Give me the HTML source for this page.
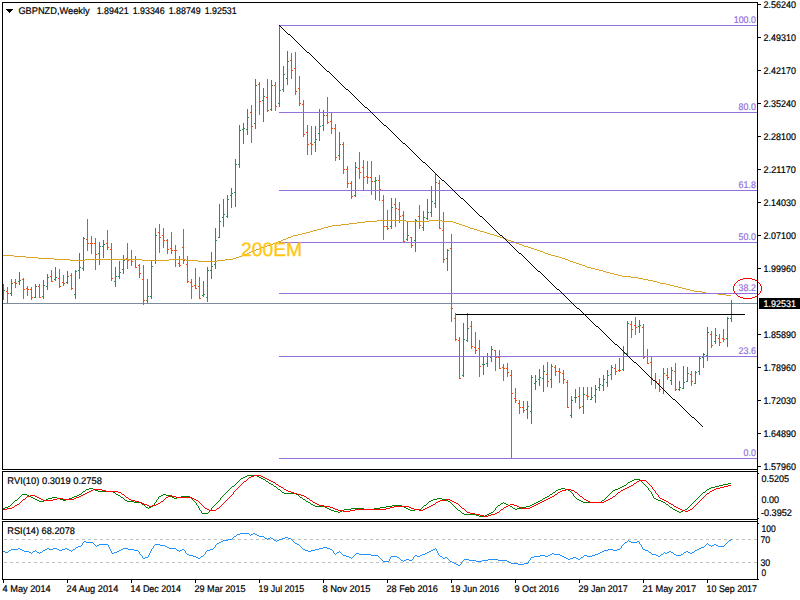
<!DOCTYPE html>
<html><head><meta charset="utf-8"><title>GBPNZD Weekly</title>
<style>
html,body{margin:0;padding:0;background:#fff;}
body{width:800px;height:600px;overflow:hidden;}
svg{display:block;font-family:"Liberation Sans",sans-serif;}
rect,path{shape-rendering:crispEdges;}
ellipse{shape-rendering:crispEdges;}
text{text-rendering:geometricPrecision;}
</style></head><body>
<svg width="800" height="600" viewBox="0 0 800 600">
<rect x="0" y="0" width="800" height="600" fill="#fff"/>
<rect x="3" y="303" width="754" height="1" fill="#7C8C9C"/>
<path d="M3 284h1V300h-1zM2 298h1v1h-1zM4 290h1v1h-1zM11 279h1V296h-1zM10 293h1v1h-1zM12 283h1v1h-1zM19 272h1V285h-1zM18 281h1v1h-1zM20 280h1v1h-1zM35 284h1V298h-1zM34 297h1v1h-1zM36 286h1v1h-1zM43 280h1V299h-1zM42 296h1v1h-1zM44 285h1v1h-1zM47 274h1V290h-1zM46 286h1v1h-1zM48 277h1v1h-1zM55 267h1V281h-1zM54 279h1v1h-1zM56 277h1v1h-1zM67 271h1V284h-1zM66 282h1v1h-1zM68 276h1v1h-1zM75 270h1V299h-1zM74 294h1v1h-1zM76 271h1v1h-1zM79 253h1V279h-1zM78 270h1v1h-1zM80 267h1v1h-1zM83 237h1V271h-1zM82 268h1v1h-1zM84 238h1v1h-1zM99 242h1V265h-1zM98 253h1v1h-1zM100 246h1v1h-1zM103 240h1V258h-1zM102 246h1v1h-1zM104 244h1v1h-1zM115 267h1V287h-1zM114 281h1v1h-1zM116 276h1v1h-1zM119 261h1V279h-1zM118 276h1v1h-1zM120 272h1v1h-1zM123 255h1V274h-1zM122 269h1v1h-1zM124 260h1v1h-1zM147 279h1V303h-1zM146 300h1v1h-1zM148 296h1v1h-1zM151 261h1V299h-1zM150 296h1v1h-1zM152 266h1v1h-1zM155 228h1V264h-1zM154 260h1v1h-1zM156 235h1v1h-1zM203 281h1V297h-1zM202 295h1v1h-1zM204 294h1v1h-1zM207 267h1V302h-1zM206 297h1v1h-1zM208 270h1v1h-1zM211 252h1V279h-1zM210 270h1v1h-1zM212 266h1v1h-1zM215 228h1V269h-1zM214 264h1v1h-1zM216 240h1v1h-1zM219 204h1V238h-1zM218 237h1v1h-1zM220 221h1v1h-1zM223 199h1V227h-1zM222 217h1v1h-1zM224 214h1v1h-1zM227 195h1V218h-1zM226 216h1v1h-1zM228 199h1v1h-1zM231 188h1V208h-1zM230 195h1v1h-1zM232 193h1v1h-1zM235 159h1V207h-1zM234 192h1v1h-1zM236 164h1v1h-1zM239 125h1V168h-1zM238 164h1v1h-1zM240 130h1v1h-1zM243 123h1V144h-1zM242 129h1v1h-1zM244 128h1v1h-1zM247 109h1V135h-1zM246 129h1v1h-1zM248 117h1v1h-1zM255 79h1V129h-1zM254 123h1v1h-1zM256 85h1v1h-1zM263 88h1V122h-1zM262 100h1v1h-1zM264 96h1v1h-1zM271 80h1V111h-1zM270 109h1v1h-1zM272 85h1v1h-1zM279 25h1V107h-1zM278 103h1v1h-1zM280 90h1v1h-1zM283 66h1V92h-1zM282 89h1v1h-1zM284 74h1v1h-1zM287 51h1V85h-1zM286 78h1v1h-1zM288 61h1v1h-1zM315 126h1V152h-1zM314 142h1v1h-1zM316 139h1v1h-1zM319 109h1V141h-1zM318 133h1v1h-1zM320 126h1v1h-1zM323 110h1V131h-1zM322 125h1v1h-1zM324 115h1v1h-1zM339 132h1V160h-1zM338 155h1v1h-1zM340 144h1v1h-1zM355 162h1V197h-1zM354 195h1v1h-1zM356 167h1v1h-1zM375 177h1V200h-1zM374 181h1v1h-1zM376 180h1v1h-1zM391 198h1V229h-1zM390 226h1v1h-1zM392 207h1v1h-1zM407 222h1V241h-1zM406 239h1v1h-1zM408 235h1v1h-1zM415 219h1V252h-1zM414 240h1v1h-1zM416 220h1v1h-1zM423 211h1V231h-1zM422 227h1v1h-1zM424 217h1v1h-1zM427 199h1V220h-1zM426 218h1v1h-1zM428 212h1v1h-1zM431 186h1V217h-1zM430 212h1v1h-1zM432 201h1v1h-1zM435 174h1V208h-1zM434 203h1v1h-1zM436 182h1v1h-1zM447 249h1V271h-1zM446 258h1v1h-1zM448 250h1v1h-1zM463 323h1V377h-1zM462 375h1v1h-1zM464 339h1v1h-1zM467 313h1V342h-1zM466 340h1v1h-1zM468 328h1v1h-1zM483 356h1V375h-1zM482 364h1v1h-1zM484 364h1v1h-1zM487 353h1V367h-1zM486 363h1v1h-1zM488 356h1v1h-1zM491 346h1V362h-1zM490 357h1v1h-1zM492 349h1v1h-1zM527 401h1V419h-1zM526 409h1v1h-1zM528 406h1v1h-1zM531 375h1V424h-1zM530 411h1v1h-1zM532 377h1v1h-1zM535 375h1V390h-1zM534 383h1v1h-1zM536 381h1v1h-1zM539 369h1V386h-1zM538 379h1v1h-1zM540 377h1v1h-1zM543 365h1V392h-1zM542 378h1v1h-1zM544 371h1v1h-1zM551 364h1V388h-1zM550 379h1v1h-1zM552 366h1v1h-1zM571 396h1V418h-1zM570 415h1v1h-1zM572 400h1v1h-1zM575 389h1V403h-1zM574 397h1v1h-1zM576 397h1v1h-1zM583 387h1V414h-1zM582 406h1v1h-1zM584 394h1v1h-1zM591 387h1V400h-1zM590 399h1v1h-1zM592 397h1v1h-1zM595 385h1V403h-1zM594 395h1v1h-1zM596 389h1v1h-1zM599 378h1V391h-1zM598 387h1v1h-1zM600 384h1v1h-1zM603 375h1V391h-1zM602 385h1v1h-1zM604 379h1v1h-1zM607 370h1V387h-1zM606 382h1v1h-1zM608 375h1v1h-1zM611 365h1V380h-1zM610 374h1v1h-1zM612 367h1v1h-1zM623 346h1V371h-1zM622 369h1v1h-1zM624 353h1v1h-1zM627 321h1V355h-1zM626 353h1v1h-1zM628 323h1v1h-1zM639 320h1V333h-1zM638 326h1v1h-1zM640 325h1v1h-1zM663 368h1V394h-1zM662 388h1v1h-1zM664 373h1v1h-1zM671 367h1V385h-1zM670 380h1v1h-1zM672 370h1v1h-1zM679 381h1V391h-1zM678 389h1v1h-1zM680 387h1v1h-1zM683 366h1V389h-1zM682 388h1v1h-1zM684 382h1v1h-1zM687 367h1V382h-1zM686 381h1v1h-1zM688 373h1v1h-1zM695 371h1V384h-1zM694 383h1v1h-1zM696 372h1v1h-1zM699 357h1V375h-1zM698 371h1v1h-1zM700 358h1v1h-1zM703 353h1V368h-1zM702 357h1v1h-1zM704 354h1v1h-1zM707 327h1V361h-1zM706 355h1v1h-1zM708 332h1v1h-1zM715 328h1V344h-1zM714 341h1v1h-1zM716 335h1v1h-1zM727 317h1V347h-1zM726 338h1v1h-1zM728 318h1v1h-1zM731 300h1V322h-1zM730 318h1v1h-1zM732 303h1v1h-1z" fill="#2E8B57"/>
<path d="M7 287h1V303h-1zM6 291h1v1h-1zM8 293h1v1h-1zM15 279h1V288h-1zM14 282h1v1h-1zM16 283h1v1h-1zM23 278h1V299h-1zM22 279h1v1h-1zM24 289h1v1h-1zM27 286h1V296h-1zM26 288h1v1h-1zM28 289h1v1h-1zM31 287h1V300h-1zM30 289h1v1h-1zM32 297h1v1h-1zM39 284h1V298h-1zM38 286h1v1h-1zM40 297h1v1h-1zM51 270h1V282h-1zM50 276h1v1h-1zM52 281h1v1h-1zM59 269h1V288h-1zM58 278h1v1h-1zM60 286h1v1h-1zM63 275h1V286h-1zM62 282h1v1h-1zM64 283h1v1h-1zM71 273h1V290h-1zM70 275h1v1h-1zM72 288h1v1h-1zM87 219h1V251h-1zM86 239h1v1h-1zM88 243h1v1h-1zM91 236h1V254h-1zM90 243h1v1h-1zM92 243h1v1h-1zM95 238h1V270h-1zM94 243h1v1h-1zM96 254h1v1h-1zM107 230h1V250h-1zM106 243h1v1h-1zM108 247h1v1h-1zM111 243h1V281h-1zM110 249h1v1h-1zM112 278h1v1h-1zM127 243h1V269h-1zM126 258h1v1h-1zM128 260h1v1h-1zM131 250h1V266h-1zM130 259h1v1h-1zM132 261h1v1h-1zM135 256h1V268h-1zM134 259h1v1h-1zM136 267h1v1h-1zM139 264h1V278h-1zM138 265h1v1h-1zM140 273h1v1h-1zM143 265h1V305h-1zM142 279h1v1h-1zM144 300h1v1h-1zM159 224h1V253h-1zM158 232h1v1h-1zM160 237h1v1h-1zM163 228h1V248h-1zM162 235h1v1h-1zM164 240h1v1h-1zM167 239h1V254h-1zM166 240h1v1h-1zM168 249h1v1h-1zM171 232h1V254h-1zM170 248h1v1h-1zM172 250h1v1h-1zM175 245h1V267h-1zM174 250h1v1h-1zM176 250h1v1h-1zM179 256h1V267h-1zM178 263h1v1h-1zM180 265h1v1h-1zM183 229h1V264h-1zM182 247h1v1h-1zM184 260h1v1h-1zM187 256h1V283h-1zM186 264h1v1h-1zM188 281h1v1h-1zM191 279h1V299h-1zM190 282h1v1h-1zM192 286h1v1h-1zM195 268h1V289h-1zM194 285h1v1h-1zM196 288h1v1h-1zM199 277h1V299h-1zM198 286h1v1h-1zM200 298h1v1h-1zM251 105h1V143h-1zM250 112h1v1h-1zM252 126h1v1h-1zM259 82h1V115h-1zM258 84h1v1h-1zM260 101h1v1h-1zM267 79h1V112h-1zM266 97h1v1h-1zM268 110h1v1h-1zM275 82h1V111h-1zM274 85h1v1h-1zM276 106h1v1h-1zM291 53h1V79h-1zM290 60h1v1h-1zM292 70h1v1h-1zM295 52h1V95h-1zM294 68h1v1h-1zM296 91h1v1h-1zM299 76h1V106h-1zM298 88h1v1h-1zM300 103h1v1h-1zM303 100h1V137h-1zM302 104h1v1h-1zM304 134h1v1h-1zM307 125h1V155h-1zM306 132h1v1h-1zM308 144h1v1h-1zM311 126h1V155h-1zM310 143h1v1h-1zM312 144h1v1h-1zM327 97h1V124h-1zM326 115h1v1h-1zM328 122h1v1h-1zM331 112h1V134h-1zM330 121h1v1h-1zM332 128h1v1h-1zM335 124h1V161h-1zM334 128h1v1h-1zM336 157h1v1h-1zM343 142h1V174h-1zM342 144h1v1h-1zM344 169h1v1h-1zM347 166h1V188h-1zM346 169h1v1h-1zM348 183h1v1h-1zM351 181h1V199h-1zM350 183h1v1h-1zM352 196h1v1h-1zM359 152h1V179h-1zM358 168h1v1h-1zM360 172h1v1h-1zM363 160h1V190h-1zM362 167h1v1h-1zM364 177h1v1h-1zM367 161h1V184h-1zM366 176h1v1h-1zM368 177h1v1h-1zM371 161h1V195h-1zM370 177h1v1h-1zM372 181h1v1h-1zM379 175h1V201h-1zM378 180h1v1h-1zM380 189h1v1h-1zM383 195h1V240h-1zM382 200h1v1h-1zM384 226h1v1h-1zM387 210h1V230h-1zM386 226h1v1h-1zM388 228h1v1h-1zM395 198h1V227h-1zM394 204h1v1h-1zM396 208h1v1h-1zM399 202h1V223h-1zM398 209h1v1h-1zM400 216h1v1h-1zM403 211h1V242h-1zM402 215h1v1h-1zM404 241h1v1h-1zM411 237h1V248h-1zM410 237h1v1h-1zM412 245h1v1h-1zM419 205h1V229h-1zM418 216h1v1h-1zM420 225h1v1h-1zM439 180h1V229h-1zM438 183h1v1h-1zM440 228h1v1h-1zM443 212h1V263h-1zM442 230h1v1h-1zM444 259h1v1h-1zM451 234h1V322h-1zM450 248h1v1h-1zM452 308h1v1h-1zM455 313h1V341h-1zM454 318h1v1h-1zM456 339h1v1h-1zM459 337h1V379h-1zM458 340h1v1h-1zM460 378h1v1h-1zM471 321h1V349h-1zM470 326h1v1h-1zM472 346h1v1h-1zM475 332h1V354h-1zM474 347h1v1h-1zM476 350h1v1h-1zM479 340h1V377h-1zM478 348h1v1h-1zM480 366h1v1h-1zM495 350h1V371h-1zM494 350h1v1h-1zM496 357h1v1h-1zM499 350h1V369h-1zM498 357h1v1h-1zM500 368h1v1h-1zM503 364h1V381h-1zM502 367h1v1h-1zM504 368h1v1h-1zM507 363h1V377h-1zM506 368h1v1h-1zM508 372h1v1h-1zM511 370h1V459h-1zM510 375h1v1h-1zM512 393h1v1h-1zM515 388h1V403h-1zM514 398h1v1h-1zM516 400h1v1h-1zM519 400h1V414h-1zM518 403h1v1h-1zM520 407h1v1h-1zM523 401h1V413h-1zM522 407h1v1h-1zM524 410h1v1h-1zM547 362h1V387h-1zM546 374h1v1h-1zM548 381h1v1h-1zM555 365h1V376h-1zM554 367h1v1h-1zM556 371h1v1h-1zM559 368h1V383h-1zM558 371h1v1h-1zM560 372h1v1h-1zM563 370h1V384h-1zM562 373h1v1h-1zM564 379h1v1h-1zM567 380h1V408h-1zM566 382h1v1h-1zM568 407h1v1h-1zM579 387h1V409h-1zM578 396h1v1h-1zM580 407h1v1h-1zM587 387h1V400h-1zM586 395h1v1h-1zM588 396h1v1h-1zM615 364h1V375h-1zM614 368h1v1h-1zM616 371h1v1h-1zM619 358h1V372h-1zM618 370h1v1h-1zM620 370h1v1h-1zM631 321h1V338h-1zM630 324h1v1h-1zM632 329h1v1h-1zM635 317h1V335h-1zM634 325h1v1h-1zM636 327h1v1h-1zM643 324h1V359h-1zM642 327h1v1h-1zM644 357h1v1h-1zM647 349h1V364h-1zM646 356h1v1h-1zM648 363h1v1h-1zM651 357h1V385h-1zM650 362h1v1h-1zM652 378h1v1h-1zM655 373h1V389h-1zM654 380h1v1h-1zM656 381h1v1h-1zM659 379h1V392h-1zM658 383h1v1h-1zM660 389h1v1h-1zM667 368h1V380h-1zM666 375h1v1h-1zM668 377h1v1h-1zM675 363h1V391h-1zM674 371h1v1h-1zM676 389h1v1h-1zM691 371h1V386h-1zM690 374h1v1h-1zM692 381h1v1h-1zM711 331h1V348h-1zM710 334h1v1h-1zM712 345h1v1h-1zM719 334h1V346h-1zM718 338h1v1h-1zM720 342h1v1h-1zM723 329h1V342h-1zM722 338h1v1h-1zM724 339h1v1h-1z" fill="#FF4500"/>
<path d="M377 220h29v1h-29zM429 220h13v1h-13zM365 221h12v1h-12zM406 221h23v1h-23zM442 221h11v1h-11zM357 222h8v1h-8zM453 222h3v1h-3zM349 223h8v1h-8zM456 223h3v1h-3zM341 224h8v1h-8zM459 224h3v1h-3zM332 225h9v1h-9zM462 225h3v1h-3zM328 226h4v1h-4zM465 226h3v1h-3zM324 227h4v1h-4zM468 227h2v1h-2zM321 228h3v1h-3zM470 228h4v1h-4zM317 229h4v1h-4zM474 229h3v1h-3zM313 230h4v1h-4zM477 230h3v1h-3zM310 231h3v1h-3zM480 231h4v1h-4zM306 232h4v1h-4zM484 232h3v1h-3zM302 233h4v1h-4zM487 233h3v1h-3zM298 234h4v1h-4zM490 234h4v1h-4zM293 235h5v1h-5zM494 235h3v1h-3zM291 236h2v1h-2zM497 236h3v1h-3zM288 237h3v1h-3zM500 237h3v1h-3zM286 238h2v1h-2zM503 238h3v1h-3zM283 239h3v1h-3zM506 239h2v1h-2zM281 240h2v1h-2zM508 240h3v1h-3zM278 241h3v1h-3zM511 241h3v1h-3zM276 242h2v1h-2zM514 242h2v1h-2zM273 243h3v1h-3zM516 243h3v1h-3zM270 244h3v1h-3zM519 244h3v1h-3zM267 245h3v1h-3zM522 245h2v1h-2zM264 246h3v1h-3zM524 246h4v1h-4zM261 247h3v1h-3zM528 247h3v1h-3zM259 248h2v1h-2zM531 248h3v1h-3zM256 249h3v1h-3zM534 249h3v1h-3zM254 250h2v1h-2zM537 250h3v1h-3zM251 251h3v1h-3zM540 251h3v1h-3zM249 252h2v1h-2zM543 252h2v1h-2zM247 253h2v1h-2zM545 253h3v1h-3zM244 254h3v1h-3zM548 254h3v1h-3zM3 255h11v1h-11zM242 255h2v1h-2zM551 255h4v1h-4zM14 256h12v1h-12zM239 256h3v1h-3zM555 256h4v1h-4zM26 257h12v1h-12zM236 257h3v1h-3zM559 257h3v1h-3zM38 258h16v1h-16zM233 258h3v1h-3zM562 258h3v1h-3zM54 259h16v1h-16zM85 259h57v1h-57zM169 259h17v1h-17zM225 259h8v1h-8zM565 259h3v1h-3zM70 260h15v1h-15zM142 260h27v1h-27zM186 260h12v1h-12zM217 260h8v1h-8zM568 260h2v1h-2zM198 261h19v1h-19zM570 261h3v1h-3zM573 262h3v1h-3zM576 263h3v1h-3zM579 264h3v1h-3zM582 265h3v1h-3zM585 266h2v1h-2zM587 267h4v1h-4zM591 268h4v1h-4zM595 269h4v1h-4zM599 270h4v1h-4zM603 271h3v1h-3zM606 272h4v1h-4zM610 273h4v1h-4zM614 274h4v1h-4zM618 275h4v1h-4zM622 276h9v1h-9zM631 277h7v1h-7zM638 278h5v1h-5zM643 279h5v1h-5zM648 280h5v1h-5zM653 281h4v1h-4zM657 282h3v1h-3zM660 283h6v1h-6zM666 284h4v1h-4zM670 285h4v1h-4zM674 286h4v1h-4zM678 287h4v1h-4zM682 288h4v1h-4zM686 289h4v1h-4zM690 290h4v1h-4zM694 291h8v1h-8zM702 292h4v1h-4zM706 293h12v1h-12zM718 294h8v1h-8zM726 295h5v1h-5z" fill="#DAA520"/>
<rect x="279" y="25" width="478" height="1" fill="#9370DB"/>
<rect x="279" y="112" width="478" height="1" fill="#9370DB"/>
<rect x="279" y="190" width="478" height="1" fill="#9370DB"/>
<rect x="279" y="242" width="478" height="1" fill="#9370DB"/>
<rect x="279" y="293" width="478" height="1" fill="#9370DB"/>
<rect x="279" y="356" width="478" height="1" fill="#9370DB"/>
<rect x="279" y="458" width="478" height="1" fill="#9370DB"/>
<text x="241" y="256" fill="#FFC610" stroke="#FFC610" stroke-width="0.3" font-size="19.4" text-anchor="start" textLength="61.2" lengthAdjust="spacingAndGlyphs">200EM</text>
<path d="M279 25h1v1h-1zM280 26h1v1h-1zM281 27h1v1h-1zM282 28h1v1h-1zM283 29h1v1h-1zM284 30h1v1h-1zM285 31h1v1h-1zM286 32h1v1h-1zM287 33h1v1h-1zM288 34h2v1h-2zM290 35h1v1h-1zM291 36h1v1h-1zM292 37h1v1h-1zM293 38h1v1h-1zM294 39h1v1h-1zM295 40h1v1h-1zM296 41h1v1h-1zM297 42h1v1h-1zM298 43h1v1h-1zM299 44h1v1h-1zM300 45h1v1h-1zM301 46h1v1h-1zM302 47h1v1h-1zM303 48h1v1h-1zM304 49h1v1h-1zM305 50h1v1h-1zM306 51h1v1h-1zM307 52h2v1h-2zM309 53h1v1h-1zM310 54h1v1h-1zM311 55h1v1h-1zM312 56h1v1h-1zM313 57h1v1h-1zM314 58h1v1h-1zM315 59h1v1h-1zM316 60h1v1h-1zM317 61h1v1h-1zM318 62h1v1h-1zM319 63h1v1h-1zM320 64h1v1h-1zM321 65h1v1h-1zM322 66h1v1h-1zM323 67h1v1h-1zM324 68h1v1h-1zM325 69h1v1h-1zM326 70h1v1h-1zM327 71h2v1h-2zM329 72h1v1h-1zM330 73h1v1h-1zM331 74h1v1h-1zM332 75h1v1h-1zM333 76h1v1h-1zM334 77h1v1h-1zM335 78h1v1h-1zM336 79h1v1h-1zM337 80h1v1h-1zM338 81h1v1h-1zM339 82h1v1h-1zM340 83h1v1h-1zM341 84h1v1h-1zM342 85h1v1h-1zM343 86h1v1h-1zM344 87h1v1h-1zM345 88h1v1h-1zM346 89h2v1h-2zM348 90h1v1h-1zM349 91h1v1h-1zM350 92h1v1h-1zM351 93h1v1h-1zM352 94h1v1h-1zM353 95h1v1h-1zM354 96h1v1h-1zM355 97h1v1h-1zM356 98h1v1h-1zM357 99h1v1h-1zM358 100h1v1h-1zM359 101h1v1h-1zM360 102h1v1h-1zM361 103h1v1h-1zM362 104h1v1h-1zM363 105h1v1h-1zM364 106h1v1h-1zM365 107h2v1h-2zM367 108h1v1h-1zM368 109h1v1h-1zM369 110h1v1h-1zM370 111h1v1h-1zM371 112h1v1h-1zM372 113h1v1h-1zM373 114h1v1h-1zM374 115h1v1h-1zM375 116h1v1h-1zM376 117h1v1h-1zM377 118h1v1h-1zM378 119h1v1h-1zM379 120h1v1h-1zM380 121h1v1h-1zM381 122h1v1h-1zM382 123h1v1h-1zM383 124h1v1h-1zM384 125h2v1h-2zM386 126h1v1h-1zM387 127h1v1h-1zM388 128h1v1h-1zM389 129h1v1h-1zM390 130h1v1h-1zM391 131h1v1h-1zM392 132h1v1h-1zM393 133h1v1h-1zM394 134h1v1h-1zM395 135h1v1h-1zM396 136h1v1h-1zM397 137h1v1h-1zM398 138h1v1h-1zM399 139h1v1h-1zM400 140h1v1h-1zM401 141h1v1h-1zM402 142h1v1h-1zM403 143h2v1h-2zM405 144h1v1h-1zM406 145h1v1h-1zM407 146h1v1h-1zM408 147h1v1h-1zM409 148h1v1h-1zM410 149h1v1h-1zM411 150h1v1h-1zM412 151h1v1h-1zM413 152h1v1h-1zM414 153h1v1h-1zM415 154h1v1h-1zM416 155h1v1h-1zM417 156h1v1h-1zM418 157h1v1h-1zM419 158h1v1h-1zM420 159h1v1h-1zM421 160h1v1h-1zM422 161h1v1h-1zM423 162h2v1h-2zM425 163h1v1h-1zM426 164h1v1h-1zM427 165h1v1h-1zM428 166h1v1h-1zM429 167h1v1h-1zM430 168h1v1h-1zM431 169h1v1h-1zM432 170h1v1h-1zM433 171h1v1h-1zM434 172h1v1h-1zM435 173h1v1h-1zM436 174h1v1h-1zM437 175h1v1h-1zM438 176h1v1h-1zM439 177h1v1h-1zM440 178h1v1h-1zM441 179h1v1h-1zM442 180h2v1h-2zM444 181h1v1h-1zM445 182h1v1h-1zM446 183h1v1h-1zM447 184h1v1h-1zM448 185h1v1h-1zM449 186h1v1h-1zM450 187h1v1h-1zM451 188h1v1h-1zM452 189h1v1h-1zM453 190h1v1h-1zM454 191h1v1h-1zM455 192h1v1h-1zM456 193h1v1h-1zM457 194h1v1h-1zM458 195h1v1h-1zM459 196h1v1h-1zM460 197h1v1h-1zM461 198h2v1h-2zM463 199h1v1h-1zM464 200h1v1h-1zM465 201h1v1h-1zM466 202h1v1h-1zM467 203h1v1h-1zM468 204h1v1h-1zM469 205h1v1h-1zM470 206h1v1h-1zM471 207h1v1h-1zM472 208h1v1h-1zM473 209h1v1h-1zM474 210h1v1h-1zM475 211h1v1h-1zM476 212h1v1h-1zM477 213h1v1h-1zM478 214h1v1h-1zM479 215h1v1h-1zM480 216h2v1h-2zM482 217h1v1h-1zM483 218h1v1h-1zM484 219h1v1h-1zM485 220h1v1h-1zM486 221h1v1h-1zM487 222h1v1h-1zM488 223h1v1h-1zM489 224h1v1h-1zM490 225h1v1h-1zM491 226h1v1h-1zM492 227h1v1h-1zM493 228h1v1h-1zM494 229h1v1h-1zM495 230h1v1h-1zM496 231h1v1h-1zM497 232h1v1h-1zM498 233h1v1h-1zM499 234h1v1h-1zM500 235h2v1h-2zM502 236h1v1h-1zM503 237h1v1h-1zM504 238h1v1h-1zM505 239h1v1h-1zM506 240h1v1h-1zM507 241h1v1h-1zM508 242h1v1h-1zM509 243h1v1h-1zM510 244h1v1h-1zM511 245h1v1h-1zM512 246h1v1h-1zM513 247h1v1h-1zM514 248h1v1h-1zM515 249h1v1h-1zM516 250h1v1h-1zM517 251h1v1h-1zM518 252h1v1h-1zM519 253h2v1h-2zM521 254h1v1h-1zM522 255h1v1h-1zM523 256h1v1h-1zM524 257h1v1h-1zM525 258h1v1h-1zM526 259h1v1h-1zM527 260h1v1h-1zM528 261h1v1h-1zM529 262h1v1h-1zM530 263h1v1h-1zM531 264h1v1h-1zM532 265h1v1h-1zM533 266h1v1h-1zM534 267h1v1h-1zM535 268h1v1h-1zM536 269h1v1h-1zM537 270h1v1h-1zM538 271h2v1h-2zM540 272h1v1h-1zM541 273h1v1h-1zM542 274h1v1h-1zM543 275h1v1h-1zM544 276h1v1h-1zM545 277h1v1h-1zM546 278h1v1h-1zM547 279h1v1h-1zM548 280h1v1h-1zM549 281h1v1h-1zM550 282h1v1h-1zM551 283h1v1h-1zM552 284h1v1h-1zM553 285h1v1h-1zM554 286h1v1h-1zM555 287h1v1h-1zM556 288h1v1h-1zM557 289h2v1h-2zM559 290h1v1h-1zM560 291h1v1h-1zM561 292h1v1h-1zM562 293h1v1h-1zM563 294h1v1h-1zM564 295h1v1h-1zM565 296h1v1h-1zM566 297h1v1h-1zM567 298h1v1h-1zM568 299h1v1h-1zM569 300h1v1h-1zM570 301h1v1h-1zM571 302h1v1h-1zM572 303h1v1h-1zM573 304h1v1h-1zM574 305h1v1h-1zM575 306h1v1h-1zM576 307h1v1h-1zM577 308h2v1h-2zM579 309h1v1h-1zM580 310h1v1h-1zM581 311h1v1h-1zM582 312h1v1h-1zM583 313h1v1h-1zM584 314h1v1h-1zM585 315h1v1h-1zM586 316h1v1h-1zM587 317h1v1h-1zM588 318h1v1h-1zM589 319h1v1h-1zM590 320h1v1h-1zM591 321h1v1h-1zM592 322h1v1h-1zM593 323h1v1h-1zM594 324h1v1h-1zM595 325h1v1h-1zM596 326h2v1h-2zM598 327h1v1h-1zM599 328h1v1h-1zM600 329h1v1h-1zM601 330h1v1h-1zM602 331h1v1h-1zM603 332h1v1h-1zM604 333h1v1h-1zM605 334h1v1h-1zM606 335h1v1h-1zM607 336h1v1h-1zM608 337h1v1h-1zM609 338h1v1h-1zM610 339h1v1h-1zM611 340h1v1h-1zM612 341h1v1h-1zM613 342h1v1h-1zM614 343h1v1h-1zM615 344h2v1h-2zM617 345h1v1h-1zM618 346h1v1h-1zM619 347h1v1h-1zM620 348h1v1h-1zM621 349h1v1h-1zM622 350h1v1h-1zM623 351h1v1h-1zM624 352h1v1h-1zM625 353h1v1h-1zM626 354h1v1h-1zM627 355h1v1h-1zM628 356h1v1h-1zM629 357h1v1h-1zM630 358h1v1h-1zM631 359h1v1h-1zM632 360h1v1h-1zM633 361h1v1h-1zM634 362h2v1h-2zM636 363h1v1h-1zM637 364h1v1h-1zM638 365h1v1h-1zM639 366h1v1h-1zM640 367h1v1h-1zM641 368h1v1h-1zM642 369h1v1h-1zM643 370h1v1h-1zM644 371h1v1h-1zM645 372h1v1h-1zM646 373h1v1h-1zM647 374h1v1h-1zM648 375h1v1h-1zM649 376h1v1h-1zM650 377h1v1h-1zM651 378h1v1h-1zM652 379h1v1h-1zM653 380h2v1h-2zM655 381h1v1h-1zM656 382h1v1h-1zM657 383h1v1h-1zM658 384h1v1h-1zM659 385h1v1h-1zM660 386h1v1h-1zM661 387h1v1h-1zM662 388h1v1h-1zM663 389h1v1h-1zM664 390h1v1h-1zM665 391h1v1h-1zM666 392h1v1h-1zM667 393h1v1h-1zM668 394h1v1h-1zM669 395h1v1h-1zM670 396h1v1h-1zM671 397h1v1h-1zM672 398h1v1h-1zM673 399h2v1h-2zM675 400h1v1h-1zM676 401h1v1h-1zM677 402h1v1h-1zM678 403h1v1h-1zM679 404h1v1h-1zM680 405h1v1h-1zM681 406h1v1h-1zM682 407h1v1h-1zM683 408h1v1h-1zM684 409h1v1h-1zM685 410h1v1h-1zM686 411h1v1h-1zM687 412h1v1h-1zM688 413h1v1h-1zM689 414h1v1h-1zM690 415h1v1h-1zM691 416h1v1h-1zM692 417h2v1h-2zM694 418h1v1h-1zM695 419h1v1h-1zM696 420h1v1h-1zM697 421h1v1h-1zM698 422h1v1h-1zM699 423h1v1h-1zM700 424h1v1h-1zM701 425h1v1h-1zM702 426h1v1h-1z" fill="#000"/>
<rect x="456" y="314" width="289" height="1" fill="#000"/>
<text x="733.8" y="22.8" fill="#9370DB" stroke="#9370DB" stroke-width="0.2" font-size="9.7" text-anchor="start" textLength="22.1" lengthAdjust="spacingAndGlyphs">100.0</text>
<text x="738.6" y="109.8" fill="#9370DB" stroke="#9370DB" stroke-width="0.2" font-size="9.7" text-anchor="start" textLength="17.3" lengthAdjust="spacingAndGlyphs">80.0</text>
<text x="738.6" y="187.8" fill="#9370DB" stroke="#9370DB" stroke-width="0.2" font-size="9.7" text-anchor="start" textLength="17.3" lengthAdjust="spacingAndGlyphs">61.8</text>
<text x="738.6" y="239.8" fill="#9370DB" stroke="#9370DB" stroke-width="0.2" font-size="9.7" text-anchor="start" textLength="17.3" lengthAdjust="spacingAndGlyphs">50.0</text>
<text x="738.6" y="290.8" fill="#9370DB" stroke="#9370DB" stroke-width="0.2" font-size="9.7" text-anchor="start" textLength="17.3" lengthAdjust="spacingAndGlyphs">38.2</text>
<text x="738.6" y="353.8" fill="#9370DB" stroke="#9370DB" stroke-width="0.2" font-size="9.7" text-anchor="start" textLength="17.3" lengthAdjust="spacingAndGlyphs">23.6</text>
<text x="743.6" y="455.8" fill="#9370DB" stroke="#9370DB" stroke-width="0.2" font-size="9.7" text-anchor="start" textLength="12.3" lengthAdjust="spacingAndGlyphs">0.0</text>
<path d="M743 278h9v1h-9zM740 279h3v1h-3zM752 279h3v1h-3zM738 280h2v1h-2zM755 280h2v1h-2zM737 281h1v1h-1zM757 281h1v1h-1zM736 282h1v1h-1zM758 282h1v1h-1zM735 283h1v1h-1zM759 283h1v1h-1zM734 284h1v1h-1zM760 284h1v1h-1zM734 285h1v1h-1zM760 285h1v1h-1zM733 286h1v1h-1zM761 286h1v1h-1zM733 287h1v1h-1zM761 287h1v1h-1zM733 288h1v1h-1zM761 288h1v1h-1zM733 289h1v1h-1zM761 289h1v1h-1zM733 290h1v1h-1zM761 290h1v1h-1zM734 291h1v1h-1zM760 291h1v1h-1zM734 292h1v1h-1zM760 292h1v1h-1zM735 293h1v1h-1zM759 293h1v1h-1zM736 294h1v1h-1zM758 294h1v1h-1zM737 295h1v1h-1zM757 295h1v1h-1zM738 296h2v1h-2zM755 296h2v1h-2zM740 297h3v1h-3zM752 297h3v1h-3zM743 298h9v1h-9z" fill="#FF0000"/>
<rect x="2" y="2" width="756" height="1" fill="#000"/>
<rect x="2" y="469" width="756" height="1" fill="#000"/>
<rect x="2" y="2" width="1" height="468" fill="#000"/>
<rect x="757" y="2" width="1" height="578" fill="#000"/>
<rect x="2" y="471" width="756" height="1" fill="#000"/>
<rect x="2" y="519" width="756" height="1" fill="#000"/>
<rect x="2" y="471" width="1" height="49" fill="#000"/>
<rect x="2" y="521" width="756" height="1" fill="#000"/>
<rect x="2" y="521" width="1" height="59" fill="#000"/>
<rect x="2" y="579" width="757" height="1" fill="#000"/>
<rect x="758" y="4" width="3" height="1" fill="#000"/>
<text x="763.6" y="7.9" fill="#000" stroke="#000" stroke-width="0.2" font-size="9.7" text-anchor="start" textLength="32.3" lengthAdjust="spacingAndGlyphs">2.56240</text>
<rect x="758" y="37" width="3" height="1" fill="#000"/>
<text x="763.6" y="40.9" fill="#000" stroke="#000" stroke-width="0.2" font-size="9.7" text-anchor="start" textLength="32.3" lengthAdjust="spacingAndGlyphs">2.49310</text>
<rect x="758" y="70" width="3" height="1" fill="#000"/>
<text x="763.6" y="73.9" fill="#000" stroke="#000" stroke-width="0.2" font-size="9.7" text-anchor="start" textLength="32.3" lengthAdjust="spacingAndGlyphs">2.42170</text>
<rect x="758" y="103" width="3" height="1" fill="#000"/>
<text x="763.6" y="106.9" fill="#000" stroke="#000" stroke-width="0.2" font-size="9.7" text-anchor="start" textLength="32.3" lengthAdjust="spacingAndGlyphs">2.35240</text>
<rect x="758" y="136" width="3" height="1" fill="#000"/>
<text x="763.6" y="139.9" fill="#000" stroke="#000" stroke-width="0.2" font-size="9.7" text-anchor="start" textLength="32.3" lengthAdjust="spacingAndGlyphs">2.28100</text>
<rect x="758" y="169" width="3" height="1" fill="#000"/>
<text x="763.6" y="172.9" fill="#000" stroke="#000" stroke-width="0.2" font-size="9.7" text-anchor="start" textLength="32.3" lengthAdjust="spacingAndGlyphs">2.21170</text>
<rect x="758" y="202" width="3" height="1" fill="#000"/>
<text x="763.6" y="205.9" fill="#000" stroke="#000" stroke-width="0.2" font-size="9.7" text-anchor="start" textLength="32.3" lengthAdjust="spacingAndGlyphs">2.14030</text>
<rect x="758" y="235" width="3" height="1" fill="#000"/>
<text x="763.6" y="238.9" fill="#000" stroke="#000" stroke-width="0.2" font-size="9.7" text-anchor="start" textLength="32.3" lengthAdjust="spacingAndGlyphs">2.07100</text>
<rect x="758" y="268" width="3" height="1" fill="#000"/>
<text x="763.6" y="271.9" fill="#000" stroke="#000" stroke-width="0.2" font-size="9.7" text-anchor="start" textLength="32.3" lengthAdjust="spacingAndGlyphs">1.99960</text>
<rect x="758" y="334" width="3" height="1" fill="#000"/>
<text x="763.6" y="337.9" fill="#000" stroke="#000" stroke-width="0.2" font-size="9.7" text-anchor="start" textLength="32.3" lengthAdjust="spacingAndGlyphs">1.85890</text>
<rect x="758" y="367" width="3" height="1" fill="#000"/>
<text x="763.6" y="370.9" fill="#000" stroke="#000" stroke-width="0.2" font-size="9.7" text-anchor="start" textLength="32.3" lengthAdjust="spacingAndGlyphs">1.78960</text>
<rect x="758" y="400" width="3" height="1" fill="#000"/>
<text x="763.6" y="403.9" fill="#000" stroke="#000" stroke-width="0.2" font-size="9.7" text-anchor="start" textLength="32.3" lengthAdjust="spacingAndGlyphs">1.72030</text>
<rect x="758" y="433" width="3" height="1" fill="#000"/>
<text x="763.6" y="436.9" fill="#000" stroke="#000" stroke-width="0.2" font-size="9.7" text-anchor="start" textLength="32.3" lengthAdjust="spacingAndGlyphs">1.64890</text>
<rect x="758" y="466" width="3" height="1" fill="#000"/>
<text x="763.6" y="469.9" fill="#000" stroke="#000" stroke-width="0.2" font-size="9.7" text-anchor="start" textLength="32.3" lengthAdjust="spacingAndGlyphs">1.57960</text>
<rect x="759" y="298" width="41" height="11" fill="#000"/>
<text x="763.6" y="307" fill="#fff" stroke="#fff" stroke-width="0.2" font-size="9.7" text-anchor="start" textLength="32.3" lengthAdjust="spacingAndGlyphs">1.92531</text>
<rect x="758" y="473" width="1" height="1" fill="#000"/>
<rect x="758" y="518" width="1" height="1" fill="#000"/>
<text x="761.5" y="481.9" fill="#000" stroke="#000" stroke-width="0.2" font-size="9.7" text-anchor="start" textLength="27.5" lengthAdjust="spacingAndGlyphs">0.5205</text>
<text x="761.5" y="503.0" fill="#000" stroke="#000" stroke-width="0.2" font-size="9.7" text-anchor="start" textLength="17.5" lengthAdjust="spacingAndGlyphs">0.00</text>
<text x="760.9" y="516" fill="#000" stroke="#000" stroke-width="0.2" font-size="9.7" text-anchor="start" textLength="31" lengthAdjust="spacingAndGlyphs">-0.3952</text>
<rect x="758" y="523" width="1" height="1" fill="#000"/>
<text x="761.6" y="531.9" fill="#000" stroke="#000" stroke-width="0.2" font-size="9.7" text-anchor="start" textLength="14.2" lengthAdjust="spacingAndGlyphs">100</text>
<text x="760.4" y="543.4" fill="#000" stroke="#000" stroke-width="0.2" font-size="9.7" text-anchor="start" textLength="9.8" lengthAdjust="spacingAndGlyphs">70</text>
<text x="760.4" y="565.8" fill="#000" stroke="#000" stroke-width="0.2" font-size="9.7" text-anchor="start" textLength="9.8" lengthAdjust="spacingAndGlyphs">30</text>
<text x="761.6" y="575.7" fill="#000" stroke="#000" stroke-width="0.2" font-size="9.7" text-anchor="start" textLength="4.6" lengthAdjust="spacingAndGlyphs">0</text>
<path d="M4 539h3v1h-3zM10 539h3v1h-3zM16 539h3v1h-3zM22 539h3v1h-3zM28 539h3v1h-3zM34 539h3v1h-3zM40 539h3v1h-3zM46 539h3v1h-3zM52 539h3v1h-3zM58 539h3v1h-3zM64 539h3v1h-3zM70 539h3v1h-3zM76 539h3v1h-3zM82 539h3v1h-3zM88 539h3v1h-3zM94 539h3v1h-3zM100 539h3v1h-3zM106 539h3v1h-3zM112 539h3v1h-3zM118 539h3v1h-3zM124 539h3v1h-3zM130 539h3v1h-3zM136 539h3v1h-3zM142 539h3v1h-3zM148 539h3v1h-3zM154 539h3v1h-3zM160 539h3v1h-3zM166 539h3v1h-3zM172 539h3v1h-3zM178 539h3v1h-3zM184 539h3v1h-3zM190 539h3v1h-3zM196 539h3v1h-3zM202 539h3v1h-3zM208 539h3v1h-3zM214 539h3v1h-3zM220 539h3v1h-3zM226 539h3v1h-3zM232 539h3v1h-3zM238 539h3v1h-3zM244 539h3v1h-3zM250 539h3v1h-3zM256 539h3v1h-3zM262 539h3v1h-3zM268 539h3v1h-3zM274 539h3v1h-3zM280 539h3v1h-3zM286 539h3v1h-3zM292 539h3v1h-3zM298 539h3v1h-3zM304 539h3v1h-3zM310 539h3v1h-3zM316 539h3v1h-3zM322 539h3v1h-3zM328 539h3v1h-3zM334 539h3v1h-3zM340 539h3v1h-3zM346 539h3v1h-3zM352 539h3v1h-3zM358 539h3v1h-3zM364 539h3v1h-3zM370 539h3v1h-3zM376 539h3v1h-3zM382 539h3v1h-3zM388 539h3v1h-3zM394 539h3v1h-3zM400 539h3v1h-3zM406 539h3v1h-3zM412 539h3v1h-3zM418 539h3v1h-3zM424 539h3v1h-3zM430 539h3v1h-3zM436 539h3v1h-3zM442 539h3v1h-3zM448 539h3v1h-3zM454 539h3v1h-3zM460 539h3v1h-3zM466 539h3v1h-3zM472 539h3v1h-3zM478 539h3v1h-3zM484 539h3v1h-3zM490 539h3v1h-3zM496 539h3v1h-3zM502 539h3v1h-3zM508 539h3v1h-3zM514 539h3v1h-3zM520 539h3v1h-3zM526 539h3v1h-3zM532 539h3v1h-3zM538 539h3v1h-3zM544 539h3v1h-3zM550 539h3v1h-3zM556 539h3v1h-3zM562 539h3v1h-3zM568 539h3v1h-3zM574 539h3v1h-3zM580 539h3v1h-3zM586 539h3v1h-3zM592 539h3v1h-3zM598 539h3v1h-3zM604 539h3v1h-3zM610 539h3v1h-3zM616 539h3v1h-3zM622 539h3v1h-3zM628 539h3v1h-3zM634 539h3v1h-3zM640 539h3v1h-3zM646 539h3v1h-3zM652 539h3v1h-3zM658 539h3v1h-3zM664 539h3v1h-3zM670 539h3v1h-3zM676 539h3v1h-3zM682 539h3v1h-3zM688 539h3v1h-3zM694 539h3v1h-3zM700 539h3v1h-3zM706 539h3v1h-3zM712 539h3v1h-3zM718 539h3v1h-3zM724 539h3v1h-3zM730 539h3v1h-3zM736 539h3v1h-3zM742 539h3v1h-3zM748 539h3v1h-3zM754 539h3v1h-3z" fill="#C0C0C0"/>
<path d="M4 562h3v1h-3zM10 562h3v1h-3zM16 562h3v1h-3zM22 562h3v1h-3zM28 562h3v1h-3zM34 562h3v1h-3zM40 562h3v1h-3zM46 562h3v1h-3zM52 562h3v1h-3zM58 562h3v1h-3zM64 562h3v1h-3zM70 562h3v1h-3zM76 562h3v1h-3zM82 562h3v1h-3zM88 562h3v1h-3zM94 562h3v1h-3zM100 562h3v1h-3zM106 562h3v1h-3zM112 562h3v1h-3zM118 562h3v1h-3zM124 562h3v1h-3zM130 562h3v1h-3zM136 562h3v1h-3zM142 562h3v1h-3zM148 562h3v1h-3zM154 562h3v1h-3zM160 562h3v1h-3zM166 562h3v1h-3zM172 562h3v1h-3zM178 562h3v1h-3zM184 562h3v1h-3zM190 562h3v1h-3zM196 562h3v1h-3zM202 562h3v1h-3zM208 562h3v1h-3zM214 562h3v1h-3zM220 562h3v1h-3zM226 562h3v1h-3zM232 562h3v1h-3zM238 562h3v1h-3zM244 562h3v1h-3zM250 562h3v1h-3zM256 562h3v1h-3zM262 562h3v1h-3zM268 562h3v1h-3zM274 562h3v1h-3zM280 562h3v1h-3zM286 562h3v1h-3zM292 562h3v1h-3zM298 562h3v1h-3zM304 562h3v1h-3zM310 562h3v1h-3zM316 562h3v1h-3zM322 562h3v1h-3zM328 562h3v1h-3zM334 562h3v1h-3zM340 562h3v1h-3zM346 562h3v1h-3zM352 562h3v1h-3zM358 562h3v1h-3zM364 562h3v1h-3zM370 562h3v1h-3zM376 562h3v1h-3zM382 562h3v1h-3zM388 562h3v1h-3zM394 562h3v1h-3zM400 562h3v1h-3zM406 562h3v1h-3zM412 562h3v1h-3zM418 562h3v1h-3zM424 562h3v1h-3zM430 562h3v1h-3zM436 562h3v1h-3zM442 562h3v1h-3zM448 562h3v1h-3zM454 562h3v1h-3zM460 562h3v1h-3zM466 562h3v1h-3zM472 562h3v1h-3zM478 562h3v1h-3zM484 562h3v1h-3zM490 562h3v1h-3zM496 562h3v1h-3zM502 562h3v1h-3zM508 562h3v1h-3zM514 562h3v1h-3zM520 562h3v1h-3zM526 562h3v1h-3zM532 562h3v1h-3zM538 562h3v1h-3zM544 562h3v1h-3zM550 562h3v1h-3zM556 562h3v1h-3zM562 562h3v1h-3zM568 562h3v1h-3zM574 562h3v1h-3zM580 562h3v1h-3zM586 562h3v1h-3zM592 562h3v1h-3zM598 562h3v1h-3zM604 562h3v1h-3zM610 562h3v1h-3zM616 562h3v1h-3zM622 562h3v1h-3zM628 562h3v1h-3zM634 562h3v1h-3zM640 562h3v1h-3zM646 562h3v1h-3zM652 562h3v1h-3zM658 562h3v1h-3zM664 562h3v1h-3zM670 562h3v1h-3zM676 562h3v1h-3zM682 562h3v1h-3zM688 562h3v1h-3zM694 562h3v1h-3zM700 562h3v1h-3zM706 562h3v1h-3zM712 562h3v1h-3zM718 562h3v1h-3zM724 562h3v1h-3zM730 562h3v1h-3zM736 562h3v1h-3zM742 562h3v1h-3zM748 562h3v1h-3zM754 562h3v1h-3z" fill="#C0C0C0"/>
<path d="M247 475h10v1h-10zM245 476h2v1h-2zM257 476h2v1h-2zM243 477h2v1h-2zM259 477h2v1h-2zM241 478h2v1h-2zM261 478h2v1h-2zM240 479h1v1h-1zM263 479h2v1h-2zM634 479h6v1h-6zM239 480h1v1h-1zM265 480h1v1h-1zM632 480h2v1h-2zM640 480h1v1h-1zM238 481h1v1h-1zM266 481h2v1h-2zM630 481h2v1h-2zM641 481h1v1h-1zM237 482h1v1h-1zM268 482h1v1h-1zM628 482h2v1h-2zM642 482h1v1h-1zM236 483h1v1h-1zM269 483h2v1h-2zM627 483h1v1h-1zM643 483h1v1h-1zM728 483h3v1h-3zM235 484h1v1h-1zM271 484h2v1h-2zM626 484h1v1h-1zM644 484h1v1h-1zM723 484h5v1h-5zM234 485h1v1h-1zM273 485h1v1h-1zM624 485h2v1h-2zM645 485h1v1h-1zM719 485h4v1h-4zM232 486h2v1h-2zM274 486h2v1h-2zM622 486h2v1h-2zM646 486h1v1h-1zM715 486h4v1h-4zM231 487h1v1h-1zM276 487h1v1h-1zM620 487h2v1h-2zM647 487h1v1h-1zM711 487h4v1h-4zM89 488h4v1h-4zM230 488h1v1h-1zM277 488h1v1h-1zM561 488h4v1h-4zM618 488h2v1h-2zM648 488h1v1h-1zM709 488h2v1h-2zM86 489h3v1h-3zM93 489h2v1h-2zM229 489h1v1h-1zM278 489h2v1h-2zM558 489h3v1h-3zM565 489h3v1h-3zM615 489h3v1h-3zM648 489h1v1h-1zM707 489h2v1h-2zM85 490h1v1h-1zM95 490h3v1h-3zM228 490h1v1h-1zM280 490h1v1h-1zM556 490h2v1h-2zM568 490h2v1h-2zM613 490h2v1h-2zM649 490h1v1h-1zM706 490h1v1h-1zM83 491h2v1h-2zM98 491h15v1h-15zM227 491h1v1h-1zM281 491h1v1h-1zM555 491h1v1h-1zM570 491h1v1h-1zM612 491h1v1h-1zM650 491h1v1h-1zM705 491h1v1h-1zM82 492h1v1h-1zM113 492h2v1h-2zM226 492h1v1h-1zM282 492h2v1h-2zM553 492h2v1h-2zM571 492h1v1h-1zM611 492h1v1h-1zM651 492h1v1h-1zM703 492h2v1h-2zM81 493h1v1h-1zM115 493h1v1h-1zM225 493h1v1h-1zM284 493h12v1h-12zM552 493h1v1h-1zM572 493h1v1h-1zM610 493h1v1h-1zM651 493h1v1h-1zM702 493h1v1h-1zM22 494h5v1h-5zM79 494h2v1h-2zM116 494h2v1h-2zM163 494h3v1h-3zM224 494h1v1h-1zM296 494h2v1h-2zM550 494h2v1h-2zM573 494h1v1h-1zM609 494h1v1h-1zM652 494h1v1h-1zM701 494h1v1h-1zM21 495h1v1h-1zM27 495h2v1h-2zM77 495h2v1h-2zM118 495h2v1h-2zM161 495h2v1h-2zM166 495h3v1h-3zM223 495h1v1h-1zM298 495h1v1h-1zM549 495h1v1h-1zM573 495h1v1h-1zM608 495h1v1h-1zM652 495h1v1h-1zM700 495h1v1h-1zM20 496h1v1h-1zM29 496h2v1h-2zM74 496h3v1h-3zM120 496h1v1h-1zM159 496h2v1h-2zM169 496h3v1h-3zM181 496h9v1h-9zM222 496h1v1h-1zM299 496h1v1h-1zM547 496h2v1h-2zM574 496h1v1h-1zM607 496h1v1h-1zM653 496h1v1h-1zM699 496h1v1h-1zM19 497h1v1h-1zM31 497h2v1h-2zM52 497h5v1h-5zM72 497h2v1h-2zM121 497h2v1h-2zM158 497h1v1h-1zM172 497h2v1h-2zM177 497h4v1h-4zM190 497h1v1h-1zM221 497h1v1h-1zM300 497h2v1h-2zM545 497h2v1h-2zM575 497h1v1h-1zM606 497h1v1h-1zM653 497h1v1h-1zM698 497h1v1h-1zM18 498h1v1h-1zM33 498h2v1h-2zM48 498h4v1h-4zM57 498h3v1h-3zM69 498h3v1h-3zM123 498h1v1h-1zM158 498h1v1h-1zM174 498h3v1h-3zM191 498h1v1h-1zM220 498h1v1h-1zM302 498h1v1h-1zM437 498h5v1h-5zM543 498h2v1h-2zM576 498h1v1h-1zM605 498h1v1h-1zM654 498h2v1h-2zM697 498h1v1h-1zM17 499h1v1h-1zM35 499h2v1h-2zM46 499h2v1h-2zM60 499h3v1h-3zM66 499h3v1h-3zM124 499h1v1h-1zM157 499h1v1h-1zM192 499h1v1h-1zM220 499h1v1h-1zM303 499h2v1h-2zM433 499h4v1h-4zM442 499h3v1h-3zM542 499h1v1h-1zM577 499h2v1h-2zM604 499h1v1h-1zM656 499h2v1h-2zM696 499h1v1h-1zM15 500h2v1h-2zM37 500h2v1h-2zM44 500h2v1h-2zM63 500h3v1h-3zM125 500h2v1h-2zM156 500h1v1h-1zM193 500h1v1h-1zM219 500h1v1h-1zM305 500h1v1h-1zM431 500h2v1h-2zM445 500h3v1h-3zM540 500h2v1h-2zM579 500h2v1h-2zM602 500h2v1h-2zM658 500h3v1h-3zM695 500h1v1h-1zM14 501h1v1h-1zM39 501h5v1h-5zM127 501h7v1h-7zM156 501h1v1h-1zM194 501h1v1h-1zM218 501h1v1h-1zM306 501h2v1h-2zM429 501h2v1h-2zM448 501h2v1h-2zM538 501h2v1h-2zM581 501h2v1h-2zM601 501h1v1h-1zM661 501h2v1h-2zM694 501h1v1h-1zM13 502h1v1h-1zM134 502h7v1h-7zM155 502h1v1h-1zM195 502h1v1h-1zM217 502h1v1h-1zM308 502h2v1h-2zM428 502h1v1h-1zM450 502h1v1h-1zM503 502h1v1h-1zM536 502h2v1h-2zM583 502h18v1h-18zM663 502h2v1h-2zM693 502h1v1h-1zM12 503h1v1h-1zM141 503h1v1h-1zM154 503h1v1h-1zM196 503h1v1h-1zM216 503h1v1h-1zM310 503h1v1h-1zM427 503h1v1h-1zM451 503h1v1h-1zM501 503h2v1h-2zM504 503h2v1h-2zM534 503h2v1h-2zM665 503h1v1h-1zM692 503h1v1h-1zM11 504h1v1h-1zM142 504h2v1h-2zM154 504h1v1h-1zM196 504h1v1h-1zM215 504h1v1h-1zM311 504h2v1h-2zM426 504h1v1h-1zM452 504h1v1h-1zM500 504h1v1h-1zM506 504h2v1h-2zM532 504h2v1h-2zM666 504h2v1h-2zM691 504h1v1h-1zM10 505h1v1h-1zM144 505h1v1h-1zM153 505h1v1h-1zM197 505h1v1h-1zM214 505h1v1h-1zM313 505h2v1h-2zM392 505h10v1h-10zM424 505h2v1h-2zM453 505h1v1h-1zM498 505h2v1h-2zM508 505h2v1h-2zM530 505h2v1h-2zM668 505h1v1h-1zM690 505h1v1h-1zM8 506h2v1h-2zM145 506h1v1h-1zM151 506h2v1h-2zM198 506h1v1h-1zM213 506h1v1h-1zM315 506h10v1h-10zM386 506h6v1h-6zM402 506h2v1h-2zM423 506h1v1h-1zM454 506h1v1h-1zM497 506h1v1h-1zM510 506h2v1h-2zM526 506h4v1h-4zM669 506h1v1h-1zM689 506h1v1h-1zM5 507h3v1h-3zM146 507h2v1h-2zM149 507h2v1h-2zM198 507h1v1h-1zM212 507h1v1h-1zM325 507h2v1h-2zM380 507h6v1h-6zM404 507h2v1h-2zM422 507h1v1h-1zM455 507h1v1h-1zM496 507h1v1h-1zM512 507h1v1h-1zM521 507h5v1h-5zM670 507h2v1h-2zM688 507h1v1h-1zM3 508h2v1h-2zM148 508h1v1h-1zM199 508h1v1h-1zM211 508h1v1h-1zM327 508h2v1h-2zM351 508h13v1h-13zM374 508h6v1h-6zM406 508h2v1h-2zM421 508h1v1h-1zM456 508h1v1h-1zM495 508h1v1h-1zM513 508h2v1h-2zM517 508h4v1h-4zM672 508h1v1h-1zM687 508h1v1h-1zM199 509h1v1h-1zM211 509h1v1h-1zM329 509h2v1h-2zM344 509h7v1h-7zM364 509h10v1h-10zM408 509h2v1h-2zM415 509h6v1h-6zM457 509h1v1h-1zM495 509h1v1h-1zM515 509h2v1h-2zM673 509h2v1h-2zM685 509h2v1h-2zM200 510h1v1h-1zM210 510h1v1h-1zM331 510h3v1h-3zM342 510h2v1h-2zM410 510h5v1h-5zM458 510h2v1h-2zM494 510h1v1h-1zM675 510h2v1h-2zM683 510h2v1h-2zM201 511h1v1h-1zM209 511h1v1h-1zM334 511h4v1h-4zM340 511h2v1h-2zM460 511h1v1h-1zM493 511h1v1h-1zM677 511h2v1h-2zM681 511h2v1h-2zM201 512h1v1h-1zM208 512h1v1h-1zM338 512h2v1h-2zM461 512h1v1h-1zM491 512h2v1h-2zM679 512h2v1h-2zM202 513h6v1h-6zM462 513h2v1h-2zM489 513h2v1h-2zM464 514h12v1h-12zM487 514h2v1h-2zM476 515h3v1h-3zM485 515h2v1h-2zM479 516h6v1h-6z" fill="#008000"/>
<path d="M254 475h7v1h-7zM251 476h3v1h-3zM261 476h2v1h-2zM249 477h2v1h-2zM263 477h2v1h-2zM248 478h1v1h-1zM265 478h2v1h-2zM247 479h1v1h-1zM267 479h2v1h-2zM246 480h1v1h-1zM269 480h2v1h-2zM639 480h7v1h-7zM244 481h2v1h-2zM271 481h2v1h-2zM637 481h2v1h-2zM646 481h1v1h-1zM243 482h1v1h-1zM273 482h2v1h-2zM636 482h1v1h-1zM647 482h1v1h-1zM242 483h1v1h-1zM275 483h1v1h-1zM634 483h2v1h-2zM648 483h1v1h-1zM241 484h1v1h-1zM276 484h2v1h-2zM633 484h1v1h-1zM649 484h1v1h-1zM240 485h1v1h-1zM278 485h1v1h-1zM631 485h2v1h-2zM650 485h1v1h-1zM728 485h3v1h-3zM239 486h1v1h-1zM279 486h2v1h-2zM629 486h2v1h-2zM651 486h1v1h-1zM724 486h4v1h-4zM238 487h1v1h-1zM281 487h2v1h-2zM627 487h2v1h-2zM652 487h1v1h-1zM720 487h4v1h-4zM237 488h1v1h-1zM283 488h1v1h-1zM625 488h2v1h-2zM652 488h1v1h-1zM716 488h4v1h-4zM93 489h9v1h-9zM236 489h1v1h-1zM284 489h2v1h-2zM566 489h5v1h-5zM623 489h2v1h-2zM653 489h1v1h-1zM714 489h2v1h-2zM91 490h2v1h-2zM102 490h4v1h-4zM235 490h1v1h-1zM286 490h2v1h-2zM562 490h4v1h-4zM571 490h3v1h-3zM621 490h2v1h-2zM654 490h1v1h-1zM712 490h2v1h-2zM89 491h2v1h-2zM106 491h12v1h-12zM234 491h1v1h-1zM288 491h3v1h-3zM560 491h2v1h-2zM574 491h1v1h-1zM620 491h1v1h-1zM655 491h1v1h-1zM710 491h2v1h-2zM87 492h2v1h-2zM118 492h3v1h-3zM233 492h1v1h-1zM291 492h3v1h-3zM558 492h2v1h-2zM575 492h2v1h-2zM618 492h2v1h-2zM655 492h1v1h-1zM709 492h1v1h-1zM85 493h2v1h-2zM121 493h1v1h-1zM233 493h1v1h-1zM294 493h3v1h-3zM557 493h1v1h-1zM577 493h1v1h-1zM617 493h1v1h-1zM656 493h1v1h-1zM707 493h2v1h-2zM83 494h2v1h-2zM122 494h2v1h-2zM232 494h1v1h-1zM297 494h4v1h-4zM555 494h2v1h-2zM578 494h1v1h-1zM616 494h1v1h-1zM657 494h1v1h-1zM706 494h1v1h-1zM30 495h5v1h-5zM81 495h2v1h-2zM124 495h1v1h-1zM169 495h3v1h-3zM231 495h1v1h-1zM301 495h3v1h-3zM554 495h1v1h-1zM579 495h1v1h-1zM615 495h1v1h-1zM658 495h1v1h-1zM705 495h1v1h-1zM27 496h3v1h-3zM35 496h2v1h-2zM79 496h2v1h-2zM125 496h1v1h-1zM168 496h1v1h-1zM172 496h4v1h-4zM230 496h1v1h-1zM304 496h2v1h-2zM552 496h2v1h-2zM580 496h2v1h-2zM613 496h2v1h-2zM658 496h1v1h-1zM704 496h1v1h-1zM26 497h1v1h-1zM37 497h2v1h-2zM76 497h3v1h-3zM126 497h2v1h-2zM166 497h2v1h-2zM176 497h16v1h-16zM229 497h1v1h-1zM306 497h1v1h-1zM550 497h2v1h-2zM582 497h1v1h-1zM612 497h1v1h-1zM659 497h1v1h-1zM703 497h1v1h-1zM25 498h1v1h-1zM39 498h2v1h-2zM57 498h6v1h-6zM74 498h2v1h-2zM128 498h1v1h-1zM165 498h1v1h-1zM192 498h2v1h-2zM228 498h1v1h-1zM307 498h2v1h-2zM548 498h2v1h-2zM583 498h1v1h-1zM610 498h2v1h-2zM660 498h2v1h-2zM702 498h1v1h-1zM23 499h2v1h-2zM41 499h2v1h-2zM53 499h4v1h-4zM63 499h11v1h-11zM129 499h2v1h-2zM164 499h1v1h-1zM194 499h2v1h-2zM227 499h1v1h-1zM309 499h1v1h-1zM445 499h5v1h-5zM546 499h2v1h-2zM584 499h2v1h-2zM608 499h2v1h-2zM662 499h2v1h-2zM701 499h1v1h-1zM22 500h1v1h-1zM43 500h10v1h-10zM131 500h4v1h-4zM163 500h1v1h-1zM196 500h2v1h-2zM226 500h1v1h-1zM310 500h2v1h-2zM440 500h5v1h-5zM450 500h2v1h-2zM544 500h2v1h-2zM586 500h2v1h-2zM606 500h2v1h-2zM664 500h2v1h-2zM700 500h1v1h-1zM21 501h1v1h-1zM135 501h4v1h-4zM161 501h2v1h-2zM198 501h1v1h-1zM225 501h1v1h-1zM312 501h1v1h-1zM438 501h2v1h-2zM452 501h2v1h-2zM542 501h2v1h-2zM588 501h2v1h-2zM604 501h2v1h-2zM666 501h2v1h-2zM699 501h1v1h-1zM20 502h1v1h-1zM139 502h3v1h-3zM160 502h1v1h-1zM199 502h1v1h-1zM224 502h1v1h-1zM313 502h2v1h-2zM436 502h2v1h-2zM454 502h2v1h-2zM540 502h2v1h-2zM590 502h14v1h-14zM668 502h1v1h-1zM698 502h1v1h-1zM19 503h1v1h-1zM142 503h2v1h-2zM158 503h2v1h-2zM200 503h1v1h-1zM223 503h1v1h-1zM315 503h2v1h-2zM435 503h1v1h-1zM456 503h2v1h-2zM538 503h2v1h-2zM669 503h2v1h-2zM697 503h1v1h-1zM17 504h2v1h-2zM144 504h3v1h-3zM156 504h2v1h-2zM201 504h1v1h-1zM222 504h1v1h-1zM317 504h2v1h-2zM433 504h2v1h-2zM458 504h1v1h-1zM510 504h4v1h-4zM536 504h2v1h-2zM671 504h2v1h-2zM696 504h1v1h-1zM15 505h2v1h-2zM147 505h2v1h-2zM152 505h4v1h-4zM202 505h1v1h-1zM221 505h1v1h-1zM319 505h5v1h-5zM431 505h2v1h-2zM459 505h1v1h-1zM508 505h2v1h-2zM514 505h3v1h-3zM534 505h2v1h-2zM673 505h1v1h-1zM695 505h1v1h-1zM14 506h1v1h-1zM149 506h3v1h-3zM203 506h1v1h-1zM220 506h1v1h-1zM324 506h6v1h-6zM394 506h15v1h-15zM429 506h2v1h-2zM460 506h1v1h-1zM506 506h2v1h-2zM517 506h2v1h-2zM532 506h2v1h-2zM674 506h2v1h-2zM694 506h1v1h-1zM12 507h2v1h-2zM204 507h1v1h-1zM219 507h1v1h-1zM330 507h3v1h-3zM390 507h4v1h-4zM409 507h2v1h-2zM427 507h2v1h-2zM461 507h1v1h-1zM504 507h2v1h-2zM519 507h2v1h-2zM530 507h2v1h-2zM676 507h2v1h-2zM693 507h1v1h-1zM7 508h5v1h-5zM205 508h2v1h-2zM217 508h2v1h-2zM333 508h2v1h-2zM386 508h4v1h-4zM411 508h3v1h-3zM425 508h2v1h-2zM462 508h2v1h-2zM503 508h1v1h-1zM521 508h9v1h-9zM678 508h2v1h-2zM692 508h1v1h-1zM3 509h4v1h-4zM207 509h2v1h-2zM216 509h1v1h-1zM335 509h3v1h-3zM355 509h31v1h-31zM414 509h5v1h-5zM423 509h2v1h-2zM464 509h1v1h-1zM501 509h2v1h-2zM680 509h2v1h-2zM690 509h2v1h-2zM209 510h7v1h-7zM338 510h5v1h-5zM350 510h5v1h-5zM419 510h4v1h-4zM465 510h1v1h-1zM500 510h1v1h-1zM682 510h3v1h-3zM688 510h2v1h-2zM343 511h7v1h-7zM466 511h1v1h-1zM499 511h1v1h-1zM685 511h3v1h-3zM467 512h3v1h-3zM497 512h2v1h-2zM470 513h5v1h-5zM495 513h2v1h-2zM475 514h5v1h-5zM491 514h4v1h-4zM480 515h4v1h-4zM488 515h3v1h-3zM484 516h4v1h-4z" fill="#FF0000"/>
<path d="M240 533h9v1h-9zM253 533h2v1h-2zM237 534h3v1h-3zM249 534h1v1h-1zM251 534h2v1h-2zM255 534h2v1h-2zM236 535h1v1h-1zM250 535h1v1h-1zM257 535h2v1h-2zM234 536h2v1h-2zM259 536h5v1h-5zM233 537h1v1h-1zM264 537h1v1h-1zM270 537h1v1h-1zM285 537h3v1h-3zM232 538h1v1h-1zM265 538h2v1h-2zM268 538h2v1h-2zM271 538h2v1h-2zM282 538h3v1h-3zM288 538h3v1h-3zM228 539h4v1h-4zM267 539h1v1h-1zM273 539h1v1h-1zM279 539h3v1h-3zM291 539h1v1h-1zM731 539h1v1h-1zM223 540h5v1h-5zM274 540h2v1h-2zM277 540h2v1h-2zM292 540h1v1h-1zM628 540h1v1h-1zM729 540h2v1h-2zM84 541h2v1h-2zM221 541h2v1h-2zM276 541h1v1h-1zM293 541h1v1h-1zM627 541h1v1h-1zM629 541h2v1h-2zM637 541h2v1h-2zM728 541h1v1h-1zM83 542h1v1h-1zM86 542h7v1h-7zM219 542h2v1h-2zM294 542h1v1h-1zM625 542h2v1h-2zM631 542h6v1h-6zM639 542h1v1h-1zM727 542h1v1h-1zM82 543h1v1h-1zM93 543h1v1h-1zM217 543h2v1h-2zM295 543h2v1h-2zM624 543h1v1h-1zM639 543h1v1h-1zM707 543h1v1h-1zM726 543h1v1h-1zM82 544h1v1h-1zM94 544h1v1h-1zM99 544h9v1h-9zM155 544h5v1h-5zM216 544h1v1h-1zM297 544h2v1h-2zM623 544h1v1h-1zM640 544h1v1h-1zM706 544h1v1h-1zM708 544h1v1h-1zM714 544h2v1h-2zM725 544h1v1h-1zM81 545h1v1h-1zM95 545h1v1h-1zM97 545h2v1h-2zM108 545h1v1h-1zM154 545h1v1h-1zM160 545h5v1h-5zM215 545h1v1h-1zM299 545h1v1h-1zM622 545h1v1h-1zM641 545h1v1h-1zM705 545h1v1h-1zM709 545h2v1h-2zM712 545h2v1h-2zM716 545h2v1h-2zM724 545h1v1h-1zM78 546h3v1h-3zM96 546h1v1h-1zM108 546h1v1h-1zM153 546h1v1h-1zM165 546h2v1h-2zM215 546h1v1h-1zM300 546h1v1h-1zM621 546h1v1h-1zM641 546h1v1h-1zM704 546h1v1h-1zM711 546h1v1h-1zM718 546h6v1h-6zM76 547h2v1h-2zM109 547h1v1h-1zM153 547h1v1h-1zM167 547h2v1h-2zM214 547h1v1h-1zM301 547h1v1h-1zM323 547h4v1h-4zM621 547h1v1h-1zM642 547h1v1h-1zM701 547h3v1h-3zM18 548h2v1h-2zM47 548h2v1h-2zM53 548h4v1h-4zM65 548h2v1h-2zM75 548h1v1h-1zM109 548h1v1h-1zM123 548h5v1h-5zM152 548h1v1h-1zM169 548h7v1h-7zM213 548h1v1h-1zM302 548h1v1h-1zM319 548h4v1h-4zM327 548h3v1h-3zM435 548h1v1h-1zM620 548h1v1h-1zM642 548h1v1h-1zM699 548h2v1h-2zM11 549h7v1h-7zM20 549h2v1h-2zM45 549h2v1h-2zM49 549h4v1h-4zM57 549h2v1h-2zM62 549h3v1h-3zM67 549h2v1h-2zM73 549h2v1h-2zM110 549h1v1h-1zM121 549h2v1h-2zM128 549h6v1h-6zM151 549h1v1h-1zM176 549h1v1h-1zM182 549h2v1h-2zM210 549h3v1h-3zM303 549h2v1h-2zM315 549h4v1h-4zM330 549h2v1h-2zM433 549h2v1h-2zM436 549h1v1h-1zM608 549h5v1h-5zM617 549h3v1h-3zM643 549h2v1h-2zM697 549h2v1h-2zM9 550h2v1h-2zM22 550h2v1h-2zM35 550h1v1h-1zM43 550h2v1h-2zM59 550h3v1h-3zM69 550h2v1h-2zM72 550h1v1h-1zM110 550h1v1h-1zM119 550h2v1h-2zM134 550h4v1h-4zM151 550h1v1h-1zM177 550h2v1h-2zM180 550h2v1h-2zM184 550h1v1h-1zM207 550h3v1h-3zM305 550h3v1h-3zM311 550h4v1h-4zM332 550h1v1h-1zM431 550h2v1h-2zM436 550h1v1h-1zM604 550h4v1h-4zM613 550h4v1h-4zM645 550h3v1h-3zM695 550h2v1h-2zM3 551h2v1h-2zM8 551h1v1h-1zM24 551h5v1h-5zM33 551h2v1h-2zM36 551h1v1h-1zM42 551h1v1h-1zM71 551h1v1h-1zM111 551h1v1h-1zM117 551h2v1h-2zM138 551h1v1h-1zM150 551h1v1h-1zM179 551h1v1h-1zM185 551h1v1h-1zM206 551h1v1h-1zM308 551h3v1h-3zM333 551h1v1h-1zM339 551h1v1h-1zM429 551h2v1h-2zM437 551h1v1h-1zM602 551h2v1h-2zM648 551h1v1h-1zM669 551h2v1h-2zM686 551h2v1h-2zM694 551h1v1h-1zM5 552h3v1h-3zM29 552h2v1h-2zM32 552h1v1h-1zM37 552h2v1h-2zM40 552h2v1h-2zM111 552h1v1h-1zM114 552h3v1h-3zM139 552h1v1h-1zM150 552h1v1h-1zM185 552h1v1h-1zM205 552h1v1h-1zM333 552h1v1h-1zM337 552h2v1h-2zM340 552h1v1h-1zM427 552h2v1h-2zM437 552h1v1h-1zM600 552h2v1h-2zM649 552h2v1h-2zM664 552h1v1h-1zM667 552h2v1h-2zM671 552h2v1h-2zM684 552h2v1h-2zM688 552h2v1h-2zM692 552h2v1h-2zM31 553h1v1h-1zM39 553h1v1h-1zM112 553h2v1h-2zM139 553h1v1h-1zM149 553h1v1h-1zM186 553h1v1h-1zM205 553h1v1h-1zM334 553h1v1h-1zM336 553h1v1h-1zM341 553h1v1h-1zM356 553h3v1h-3zM425 553h2v1h-2zM438 553h1v1h-1zM552 553h2v1h-2zM598 553h2v1h-2zM651 553h1v1h-1zM663 553h1v1h-1zM665 553h2v1h-2zM673 553h1v1h-1zM683 553h1v1h-1zM690 553h2v1h-2zM140 554h1v1h-1zM149 554h1v1h-1zM187 554h2v1h-2zM204 554h1v1h-1zM335 554h1v1h-1zM342 554h1v1h-1zM355 554h1v1h-1zM359 554h12v1h-12zM422 554h3v1h-3zM438 554h1v1h-1zM550 554h2v1h-2zM554 554h6v1h-6zM595 554h3v1h-3zM652 554h4v1h-4zM661 554h2v1h-2zM674 554h2v1h-2zM681 554h2v1h-2zM141 555h1v1h-1zM148 555h1v1h-1zM189 555h4v1h-4zM203 555h1v1h-1zM343 555h3v1h-3zM354 555h1v1h-1zM371 555h7v1h-7zM415 555h2v1h-2zM420 555h2v1h-2zM439 555h1v1h-1zM540 555h5v1h-5zM548 555h2v1h-2zM560 555h2v1h-2zM584 555h3v1h-3zM592 555h3v1h-3zM656 555h2v1h-2zM660 555h1v1h-1zM676 555h5v1h-5zM142 556h1v1h-1zM148 556h1v1h-1zM193 556h3v1h-3zM201 556h2v1h-2zM346 556h3v1h-3zM353 556h1v1h-1zM378 556h1v1h-1zM391 556h6v1h-6zM414 556h1v1h-1zM417 556h3v1h-3zM440 556h2v1h-2zM534 556h6v1h-6zM545 556h3v1h-3zM562 556h2v1h-2zM583 556h1v1h-1zM587 556h5v1h-5zM658 556h2v1h-2zM142 557h1v1h-1zM145 557h3v1h-3zM196 557h2v1h-2zM200 557h1v1h-1zM349 557h2v1h-2zM352 557h1v1h-1zM379 557h1v1h-1zM390 557h1v1h-1zM397 557h2v1h-2zM413 557h1v1h-1zM442 557h1v1h-1zM445 557h2v1h-2zM531 557h3v1h-3zM564 557h2v1h-2zM573 557h3v1h-3zM581 557h2v1h-2zM143 558h2v1h-2zM198 558h2v1h-2zM351 558h1v1h-1zM380 558h1v1h-1zM390 558h1v1h-1zM399 558h1v1h-1zM413 558h1v1h-1zM443 558h2v1h-2zM447 558h1v1h-1zM530 558h1v1h-1zM566 558h2v1h-2zM570 558h3v1h-3zM576 558h2v1h-2zM580 558h1v1h-1zM381 559h1v1h-1zM389 559h1v1h-1zM400 559h1v1h-1zM406 559h3v1h-3zM412 559h1v1h-1zM448 559h1v1h-1zM464 559h5v1h-5zM488 559h10v1h-10zM530 559h1v1h-1zM568 559h2v1h-2zM578 559h2v1h-2zM382 560h1v1h-1zM389 560h1v1h-1zM401 560h2v1h-2zM404 560h2v1h-2zM409 560h3v1h-3zM449 560h1v1h-1zM463 560h1v1h-1zM469 560h7v1h-7zM482 560h6v1h-6zM498 560h9v1h-9zM529 560h1v1h-1zM383 561h6v1h-6zM403 561h1v1h-1zM450 561h2v1h-2zM462 561h1v1h-1zM476 561h6v1h-6zM507 561h2v1h-2zM528 561h1v1h-1zM452 562h2v1h-2zM461 562h1v1h-1zM509 562h2v1h-2zM528 562h1v1h-1zM454 563h2v1h-2zM461 563h1v1h-1zM511 563h7v1h-7zM524 563h4v1h-4zM456 564h2v1h-2zM460 564h1v1h-1zM518 564h6v1h-6zM458 565h2v1h-2z" fill="#1E90FF"/>
<path d="M6 9h7v1h-7zM7 10h5v1h-5zM8 11h3v1h-3zM9 12h1v1h-1z" fill="#000"/>
<text x="18.4" y="14" fill="#000" stroke="#000" stroke-width="0.2" font-size="9.7" text-anchor="start" textLength="71.3" lengthAdjust="spacingAndGlyphs">GBPNZD,Weekly</text>
<text x="96.7" y="14" fill="#000" stroke="#000" stroke-width="0.2" font-size="9.7" text-anchor="start" textLength="32" lengthAdjust="spacingAndGlyphs">1.89421</text>
<text x="132.7" y="14" fill="#000" stroke="#000" stroke-width="0.2" font-size="9.7" text-anchor="start" textLength="32" lengthAdjust="spacingAndGlyphs">1.93346</text>
<text x="168.7" y="14" fill="#000" stroke="#000" stroke-width="0.2" font-size="9.7" text-anchor="start" textLength="32" lengthAdjust="spacingAndGlyphs">1.88749</text>
<text x="204.7" y="14" fill="#000" stroke="#000" stroke-width="0.2" font-size="9.7" text-anchor="start" textLength="32" lengthAdjust="spacingAndGlyphs">1.92531</text>
<text x="7.3" y="484" fill="#000" stroke="#000" stroke-width="0.2" font-size="9.7" text-anchor="start" textLength="94.6" lengthAdjust="spacingAndGlyphs">RVI(10) 0.3019 0.2758</text>
<text x="7.3" y="534" fill="#000" stroke="#000" stroke-width="0.2" font-size="9.7" text-anchor="start" textLength="67.6" lengthAdjust="spacingAndGlyphs">RSI(14) 68.2078</text>
<rect x="3" y="580" width="1" height="3" fill="#000"/>
<text x="2.5" y="591.6" fill="#000" stroke="#000" stroke-width="0.2" font-size="9.7" text-anchor="start" textLength="48.2" lengthAdjust="spacingAndGlyphs">4 May 2014</text>
<rect x="67" y="580" width="1" height="3" fill="#000"/>
<text x="66.5" y="591.6" fill="#000" stroke="#000" stroke-width="0.2" font-size="9.7" text-anchor="start" textLength="51.8" lengthAdjust="spacingAndGlyphs">24 Aug 2014</text>
<rect x="131" y="580" width="1" height="3" fill="#000"/>
<text x="130.5" y="591.6" fill="#000" stroke="#000" stroke-width="0.2" font-size="9.7" text-anchor="start" textLength="50.5" lengthAdjust="spacingAndGlyphs">14 Dec 2014</text>
<rect x="195" y="580" width="1" height="3" fill="#000"/>
<text x="194.5" y="591.6" fill="#000" stroke="#000" stroke-width="0.2" font-size="9.7" text-anchor="start" textLength="51" lengthAdjust="spacingAndGlyphs">29 Mar 2015</text>
<rect x="259" y="580" width="1" height="3" fill="#000"/>
<text x="258.5" y="591.6" fill="#000" stroke="#000" stroke-width="0.2" font-size="9.7" text-anchor="start" textLength="45.8" lengthAdjust="spacingAndGlyphs">19 Jul 2015</text>
<rect x="323" y="580" width="1" height="3" fill="#000"/>
<text x="322.5" y="591.6" fill="#000" stroke="#000" stroke-width="0.2" font-size="9.7" text-anchor="start" textLength="48" lengthAdjust="spacingAndGlyphs">8 Nov 2015</text>
<rect x="387" y="580" width="1" height="3" fill="#000"/>
<text x="386.5" y="591.6" fill="#000" stroke="#000" stroke-width="0.2" font-size="9.7" text-anchor="start" textLength="51.3" lengthAdjust="spacingAndGlyphs">28 Feb 2016</text>
<rect x="451" y="580" width="1" height="3" fill="#000"/>
<text x="450.5" y="591.6" fill="#000" stroke="#000" stroke-width="0.2" font-size="9.7" text-anchor="start" textLength="48.8" lengthAdjust="spacingAndGlyphs">19 Jun 2016</text>
<rect x="515" y="580" width="1" height="3" fill="#000"/>
<text x="514.5" y="591.6" fill="#000" stroke="#000" stroke-width="0.2" font-size="9.7" text-anchor="start" textLength="44.5" lengthAdjust="spacingAndGlyphs">9 Oct 2016</text>
<rect x="579" y="580" width="1" height="3" fill="#000"/>
<text x="578.5" y="591.6" fill="#000" stroke="#000" stroke-width="0.2" font-size="9.7" text-anchor="start" textLength="49.3" lengthAdjust="spacingAndGlyphs">29 Jan 2017</text>
<rect x="643" y="580" width="1" height="3" fill="#000"/>
<text x="642.5" y="591.6" fill="#000" stroke="#000" stroke-width="0.2" font-size="9.7" text-anchor="start" textLength="53.7" lengthAdjust="spacingAndGlyphs">21 May 2017</text>
<rect x="707" y="580" width="1" height="3" fill="#000"/>
<text x="706.5" y="591.6" fill="#000" stroke="#000" stroke-width="0.2" font-size="9.7" text-anchor="start" textLength="50.5" lengthAdjust="spacingAndGlyphs">10 Sep 2017</text>
</svg>
</body></html>
